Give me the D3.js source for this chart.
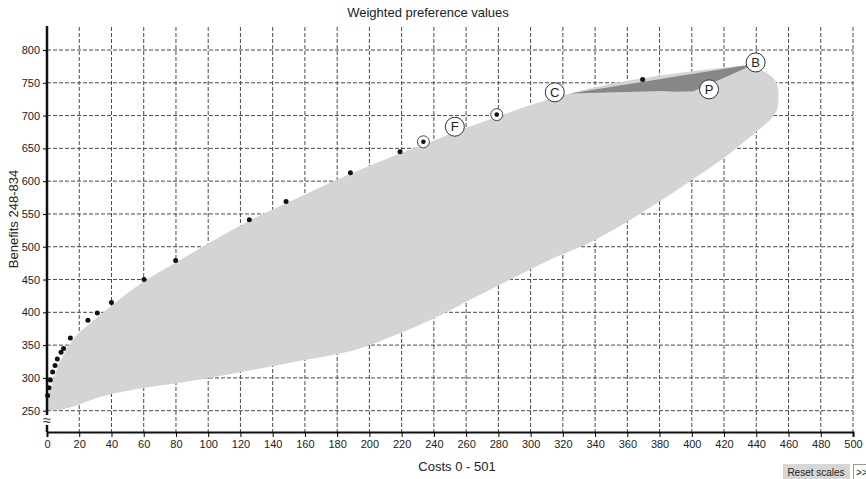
<!DOCTYPE html>
<html>
<head>
<meta charset="utf-8">
<script src="https://cdn.jsdelivr.net/npm/d3@7"></script>
<style>
  body { margin: 0; background: #fff; }
  svg text { font-family: "Liberation Sans", Arial, sans-serif; fill: #222; }
  .grid line { stroke: #4a4a4a; stroke-width: 1; stroke-dasharray: 4,2; }
  .tick text { font-size: 11px; }
</style>
</head>
<body>
<div id="chart"></div>
<script>
// ---- data ----
var xTicks = d3.range(0, 501, 20);
var yTicks = d3.range(250, 801, 50);

// efficient frontier points (cost, benefit)
var dotCost    = [0.4, 1.2, 2.1, 3.5, 5, 6.4, 8.7, 10.3, 14.5, 25.4, 31.2, 40, 60.2, 79.8, 125.5, 148.3, 188.2, 219, 369.5];
var dotBenefit = [273, 285, 297, 309, 319, 329, 339, 345, 361, 388, 399, 415, 450, 479, 541, 569, 613, 645, 755];

// circled frontier points
var ringCost    = [233.5, 279];
var ringBenefit = [660, 701.5];

// labelled portfolios
var labelNames   = ["F", "C", "P", "B"];
var labelCost    = [253, 315, 410.7, 439.6];
var labelBenefit = [683, 735.5, 740, 781];

// light region: upper edge (left to right)
var upperCost    = [0, 0.7, 2.2, 3.9, 7, 10, 13, 18, 26, 33, 40, 60, 80, 100, 125, 148, 188, 219, 234, 256, 279, 300, 324.4, 434];
var upperBenefit = [256, 271, 285, 297, 319, 334, 347.5, 364, 382, 396, 410, 447, 476, 505, 539, 566, 611, 642, 656, 678, 698, 716, 733.7, 776.7];
// light region: rounded right end (top to bottom)
var capCost    = [434, 441, 447, 451.6, 453.6, 453.7, 452.7, 448.5];
var capBenefit = [776.7, 771, 764, 754, 740, 723, 708, 693];
// light region: lower edge (right to left)
var lowerCost    = [448.5, 436, 417.5, 399, 380, 362, 337, 312, 289, 260, 246, 219, 194, 157, 95, 33, 8, 3, 0];
var lowerBenefit = [693, 667, 631, 600, 569, 541, 507, 480, 452, 416, 398, 368, 345, 326, 297.5, 271, 251.5, 250.3, 252];

// dark region between C, B and P
var darkCost    = [324.4, 434, 436, 435, 401, 390, 382, 324.4];
var darkBenefit = [733.7, 776.7, 776, 774, 737, 736.3, 737.5, 733.7];

// ---- layout ----
var W = 866, H = 479;
var left = 47, right = 853, plotTop = 27, axisY = 432;

var svg = d3.select("#chart").append("svg")
  .attr("width", W).attr("height", H);

var x = d3.scaleLinear().domain([0, 500]).range([left, right]);
var y = d3.scaleLinear().domain([250, 800]).range([410.7, 50]);

function pts(cs, bs) {
  return cs.map(function(c, i) { return [c, bs[i]]; });
}

// grid
var grid = svg.append("g").attr("class", "grid");
grid.selectAll(".h").data(yTicks).enter().append("line")
  .attr("x1", left).attr("x2", right)
  .attr("y1", function(d) { return y(d); })
  .attr("y2", function(d) { return y(d); });
grid.selectAll(".v").data(xTicks).enter().append("line")
  .attr("x1", function(d) { return x(d); })
  .attr("x2", function(d) { return x(d); })
  .attr("y1", plotTop).attr("y2", axisY);

// regions
var mono = d3.line()
  .x(function(d) { return x(d[0]); })
  .y(function(d) { return y(d[1]); })
  .curve(d3.curveMonotoneX);
var round = d3.line()
  .x(function(d) { return x(d[0]); })
  .y(function(d) { return y(d[1]); })
  .curve(d3.curveCatmullRom.alpha(0.5));
var straight = d3.line()
  .x(function(d) { return x(d[0]); })
  .y(function(d) { return y(d[1]); });

var bodyPath = mono(pts(upperCost, upperBenefit))
  + round(pts(capCost, capBenefit)).replace(/^M/, "L")
  + mono(pts(lowerCost, lowerBenefit)).replace(/^M/, "L") + "Z";

svg.append("path")
  .attr("d", bodyPath)
  .attr("fill", "#d4d4d6");

svg.append("path")
  .attr("d", straight(pts(darkCost, darkBenefit)) + "Z")
  .attr("fill", "#87878a");

// axes
var xAxis = svg.append("g")
  .attr("transform", "translate(0," + axisY + ")")
  .call(d3.axisBottom(x).tickValues(xTicks).tickSize(5).tickPadding(3));
xAxis.select(".domain").attr("stroke", "#111").attr("stroke-width", 2);

var yAxis = svg.append("g")
  .attr("transform", "translate(" + left + ",0)")
  .call(d3.axisLeft(y).tickValues(yTicks).tickSize(4).tickPadding(3));
yAxis.select(".domain").remove();

svg.append("line")
  .attr("x1", left).attr("x2", left)
  .attr("y1", plotTop - 1).attr("y2", axisY)
  .attr("stroke", "#111").attr("stroke-width", 2.5);

svg.selectAll(".tick text").style("fill", "#222");

// axis break mark
svg.append("rect")
  .attr("x", left - 4).attr("y", 415).attr("width", 8).attr("height", 10)
  .attr("fill", "#fff");
svg.append("text")
  .attr("x", left).attr("y", 425)
  .attr("text-anchor", "middle")
  .style("font-size", "14px")
  .text("≈");

// frontier dots
svg.selectAll(".dot").data(dotCost).enter().append("circle")
  .attr("cx", function(d) { return x(d); })
  .attr("cy", function(d, i) { return y(dotBenefit[i]); })
  .attr("r", 2.5)
  .attr("fill", "#111");

// circled dots
var rings = svg.selectAll(".ring").data(ringCost).enter().append("g");
rings.append("circle")
  .attr("cx", function(d) { return x(d); })
  .attr("cy", function(d, i) { return y(ringBenefit[i]); })
  .attr("r", 6)
  .attr("fill", "#fff").attr("stroke", "#444").attr("stroke-width", 1);
rings.append("circle")
  .attr("cx", function(d) { return x(d); })
  .attr("cy", function(d, i) { return y(ringBenefit[i]); })
  .attr("r", 2.3)
  .attr("fill", "#111");

// labelled portfolios
var labs = svg.selectAll(".lab").data(labelNames).enter().append("g");
labs.append("circle")
  .attr("cx", function(d, i) { return x(labelCost[i]); })
  .attr("cy", function(d, i) { return y(labelBenefit[i]); })
  .attr("r", 9.5)
  .attr("fill", "#fff").attr("stroke", "#333").attr("stroke-width", 1);
labs.append("text")
  .attr("x", function(d, i) { return x(labelCost[i]); })
  .attr("y", function(d, i) { return y(labelBenefit[i]) + 4.5; })
  .attr("text-anchor", "middle")
  .style("font-size", "13px")
  .text(function(d) { return d; });

// titles
svg.append("text")
  .attr("x", 428).attr("y", 17)
  .attr("text-anchor", "middle")
  .style("font-size", "13px")
  .text("Weighted preference values");

svg.append("text")
  .attr("x", 457).attr("y", 471)
  .attr("text-anchor", "middle")
  .style("font-size", "13px")
  .text("Costs 0 - 501");

svg.append("text")
  .attr("transform", "translate(18,219) rotate(-90)")
  .attr("text-anchor", "middle")
  .style("font-size", "13px")
  .text("Benefits 248-834");

// buttons
svg.append("rect")
  .attr("x", 783).attr("y", 464).attr("width", 67).attr("height", 18)
  .attr("fill", "#d6d6d6");
svg.append("text")
  .attr("x", 816).attr("y", 476)
  .attr("text-anchor", "middle")
  .style("font-size", "10px")
  .text("Reset scales");
svg.append("rect")
  .attr("x", 853.5).attr("y", 464.5).attr("width", 20).attr("height", 18)
  .attr("fill", "#fff").attr("stroke", "#999");
svg.append("text")
  .attr("x", 856).attr("y", 476)
  .style("font-size", "10px")
  .text(">>");
</script>
</body>
</html>
